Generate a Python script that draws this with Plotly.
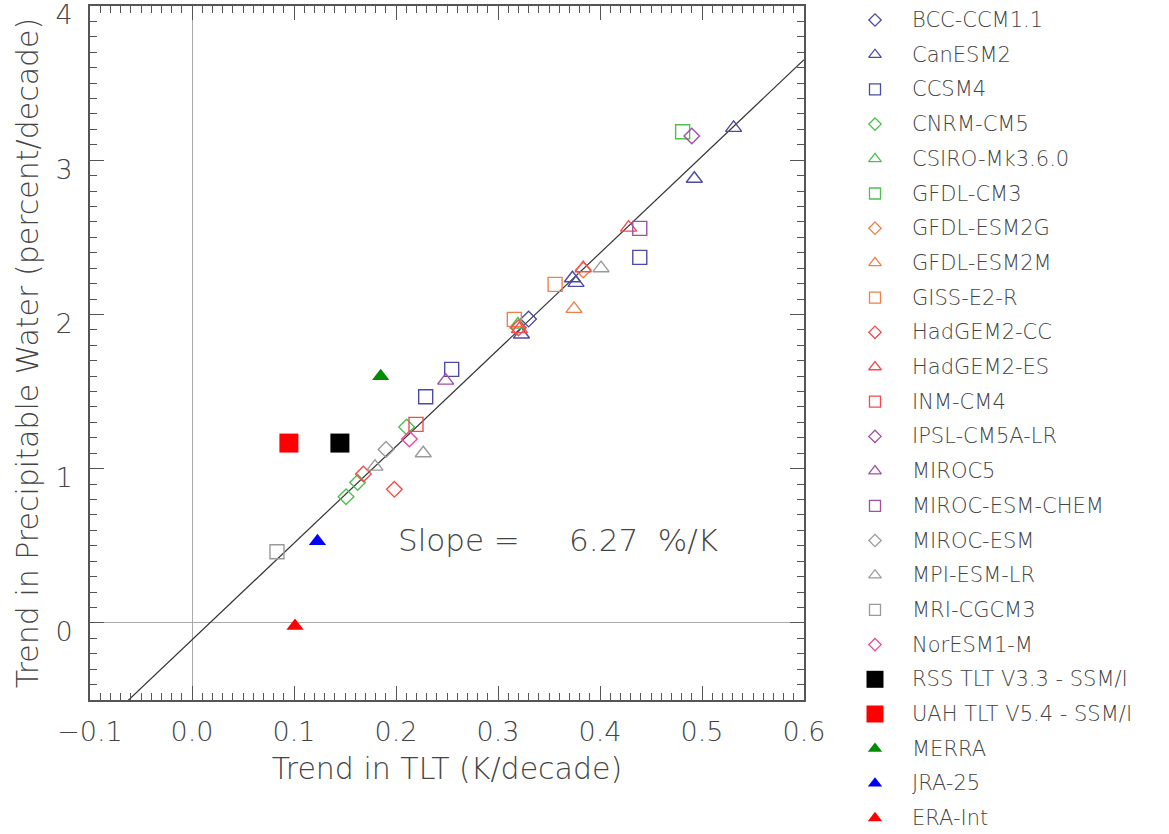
import plotly.graph_objects as go

# Model ensemble members: TLT trend (K/decade) vs precipitable water trend (%/decade)
model_names = [
    "BCC-CCM1.1", "CanESM2", "CCSM4", "CNRM-CM5", "CSIRO-Mk3.6.0", "GFDL-CM3",
    "GFDL-ESM2G", "GFDL-ESM2M", "GISS-E2-R", "HadGEM2-CC", "HadGEM2-ES", "INM-CM4",
    "IPSL-CM5A-LR", "MIROC5", "MIROC-ESM-CHEM", "MIROC-ESM", "MPI-ESM-LR",
    "MRI-CGCM3", "NorESM1-M",
]
model_tlt = [
    [0.330],
    [0.531, 0.4925, 0.373, 0.3765, 0.323],
    [0.2546, 0.2291, 0.439],
    [0.2104, 0.1624, 0.151],
    [0.3196],
    [0.481],
    [0.3836],
    [0.3745],
    [0.356, 0.316],
    [0.168, 0.1984, 0.320],
    [0.428, 0.3836, 0.321],
    [0.2196],
    [0.490],
    [0.2487],
    [0.439],
    [0.1902],
    [0.401, 0.2267, 0.1794],
    [0.0833],
    [0.2131],
]
model_pw = [
    [1.970],
    [3.21, 2.88, 2.235, 2.205, 1.87],
    [1.644, 1.466, 2.370],
    [1.270, 0.911, 0.818],
    [1.935],
    [3.185],
    [2.288],
    [2.036],
    [2.195, 1.968],
    [0.965, 0.866, 1.913],
    [2.563, 2.300, 1.905],
    [1.287],
    [3.157],
    [1.571],
    [2.558],
    [1.125],
    [2.30, 1.100, 1.013],
    [0.461],
    [1.192],
]

# Satellite and reanalysis estimates
obs_names = ["RSS TLT V3.3 - SSM/I", "UAH TLT V5.4 - SSM/I", "MERRA", "JRA-25", "ERA-Int"]
obs_tlt = [0.145, 0.095, 0.185, 0.123, 0.101]
obs_pw = [1.166, 1.166, 1.60, 0.53, -0.02]

# Regression of PW trend on TLT trend
SLOPE = 6.27
INTERCEPT = -0.11

X_RANGE = [-0.1, 0.6]
Y_RANGE = [-0.5, 4.0]

navy, green, orange, red = "#4b4ba6", "#4fbf4f", "#f0804a", "#f54a4a"
purple, gray, pink = "#a24ea6", "#9a9a9a", "#ee4a9a"
model_colors = [navy] * 3 + [green] * 3 + [orange] * 3 + [red] * 3 + [purple] * 3 + [gray] * 3 + [pink]
model_symbols = ["diamond-open", "triangle-up-open", "square-open"] * 6 + ["diamond-open"]
model_sizes = {"diamond-open": 12, "triangle-up-open": 14, "square-open": 14}
key_sizes = {"diamond-open": 9.5, "triangle-up-open": 11, "square-open": 11,
             "square": 17, "triangle-up": 12.5}

obs_colors = ["#000000", "#ff0000", "#008c00", "#0000ff", "#ff0000"]
obs_symbols = ["square", "square", "triangle-up", "triangle-up", "triangle-up"]
obs_sizes = [19, 19, 15, 15, 15]

FONT = "DejaVu Sans"
WEIGHT = 300
TEXT = "#444444"
AXIS = "#555555"

# page geometry (px)
W, H = 1169, 834
PLOT_L, PLOT_R, PLOT_T, PLOT_B = 90, 804, 6, 700
KEY_L = 860            # left edge of the key panel
KEY_MARK, KEY_TEXT = 15, 50   # offsets inside the key panel
KEY_FIRST, KEY_STEP = 20, 34.7

paper_w = W - PLOT_L
x_dom = [0, (PLOT_R - PLOT_L) / paper_w]
y_dom = [(H - PLOT_B) / H, (H - PLOT_T) / H]
key_dom = [(KEY_L - PLOT_L) / paper_w, 1]
key_yrange = [(H - KEY_FIRST) / KEY_STEP, -KEY_FIRST / KEY_STEP]

fig = go.Figure()

# fitted line across the full x range
line_x = list(X_RANGE)
line_y = [SLOPE * v + INTERCEPT for v in line_x]
fig.add_trace(go.Scatter(
    x=line_x, y=line_y, mode="lines",
    line=dict(color="#333333", width=1.2),
    showlegend=False, hoverinfo="skip",
))

for i, name in enumerate(model_names):
    fig.add_trace(go.Scatter(
        x=model_tlt[i], y=model_pw[i], mode="markers", name=name, showlegend=False,
        marker=dict(symbol=model_symbols[i], color=model_colors[i],
                    size=model_sizes[model_symbols[i]],
                    line=dict(width=1.4, color=model_colors[i])),
    ))

for i, name in enumerate(obs_names):
    fig.add_trace(go.Scatter(
        x=[obs_tlt[i]], y=[obs_pw[i]], mode="markers", name=name, showlegend=False,
        marker=dict(symbol=obs_symbols[i], color=obs_colors[i], size=obs_sizes[i],
                    line=dict(width=0)),
    ))

# key panel: one row per model / observational estimate
key_names = model_names + obs_names
key_symbols = model_symbols + obs_symbols
key_colors = model_colors + obs_colors
for row, name in enumerate(key_names):
    sym = key_symbols[row]
    fig.add_trace(go.Scatter(
        x=[KEY_MARK], y=[row], xaxis="x2", yaxis="y2", mode="markers",
        showlegend=False, hoverinfo="skip", cliponaxis=False,
        marker=dict(symbol=sym, color=key_colors[row], size=key_sizes[sym],
                    line=dict(width=1.3 if sym.endswith("open") else 0, color=key_colors[row])),
    ))
    fig.add_annotation(
        x=KEY_TEXT, y=row, xref="x2", yref="y2", xanchor="left", yanchor="middle",
        text=name, showarrow=False,
        font=dict(family=FONT, size=21, color=TEXT, weight=WEIGHT),
    )

axis_common = dict(
    showline=True, linecolor=AXIS, linewidth=2, mirror="allticks",
    ticks="inside", ticklen=14, tickwidth=1.3, tickcolor=AXIS,
    showgrid=False, zeroline=True, zerolinecolor="#aaaaaa", zerolinewidth=1,
    tickfont=dict(family=FONT, size=27, color=TEXT, weight=WEIGHT),
    ticklabeloverflow="allow", automargin=False,
)

fig.update_layout(
    xaxis=dict(
        domain=x_dom, range=X_RANGE, dtick=0.1, tick0=0, tickformat=".1f",
        minor=dict(dtick=0.01, ticks="inside", ticklen=7, tickwidth=1.1, tickcolor=AXIS, showgrid=False),
        ticklabelstandoff=7,
        title=dict(text="Trend in TLT (K/decade)",
                   font=dict(family=FONT, size=30, color=TEXT, weight=WEIGHT), standoff=12),
        **axis_common,
    ),
    yaxis=dict(
        domain=y_dom, range=Y_RANGE, dtick=1, tick0=0,
        minor=dict(dtick=0.1, ticks="inside", ticklen=7, tickwidth=1.1, tickcolor=AXIS, showgrid=False),
        ticklabelstandoff=10, ticklabelshift=9,
        title=dict(text="Trend in Precipitable Water (percent/decade)",
                   font=dict(family=FONT, size=30, color=TEXT, weight=WEIGHT), standoff=8),
        **axis_common,
    ),
    xaxis2=dict(domain=key_dom, range=[0, W - KEY_L], visible=False, fixedrange=True, anchor="y2"),
    yaxis2=dict(domain=[0, 1], range=key_yrange, visible=False, fixedrange=True, anchor="x2"),
)

fig.add_annotation(
    x=0.2, y=0.54, xref="x", yref="y", xanchor="left", yanchor="middle",
    text=f"Slope =\u00a0\u00a0\u00a0\u00a0\u00a0{SLOPE:.2f}\u00a0\u00a0%/K", showarrow=False,
    font=dict(family=FONT, size=31, color=TEXT, weight=WEIGHT),
)

fig.update_layout(
    width=W, height=H,
    margin=dict(l=PLOT_L, r=0, t=0, b=0, autoexpand=False),
    paper_bgcolor="white", plot_bgcolor="white",
    showlegend=False,
)

fig.write_html("out.html")
